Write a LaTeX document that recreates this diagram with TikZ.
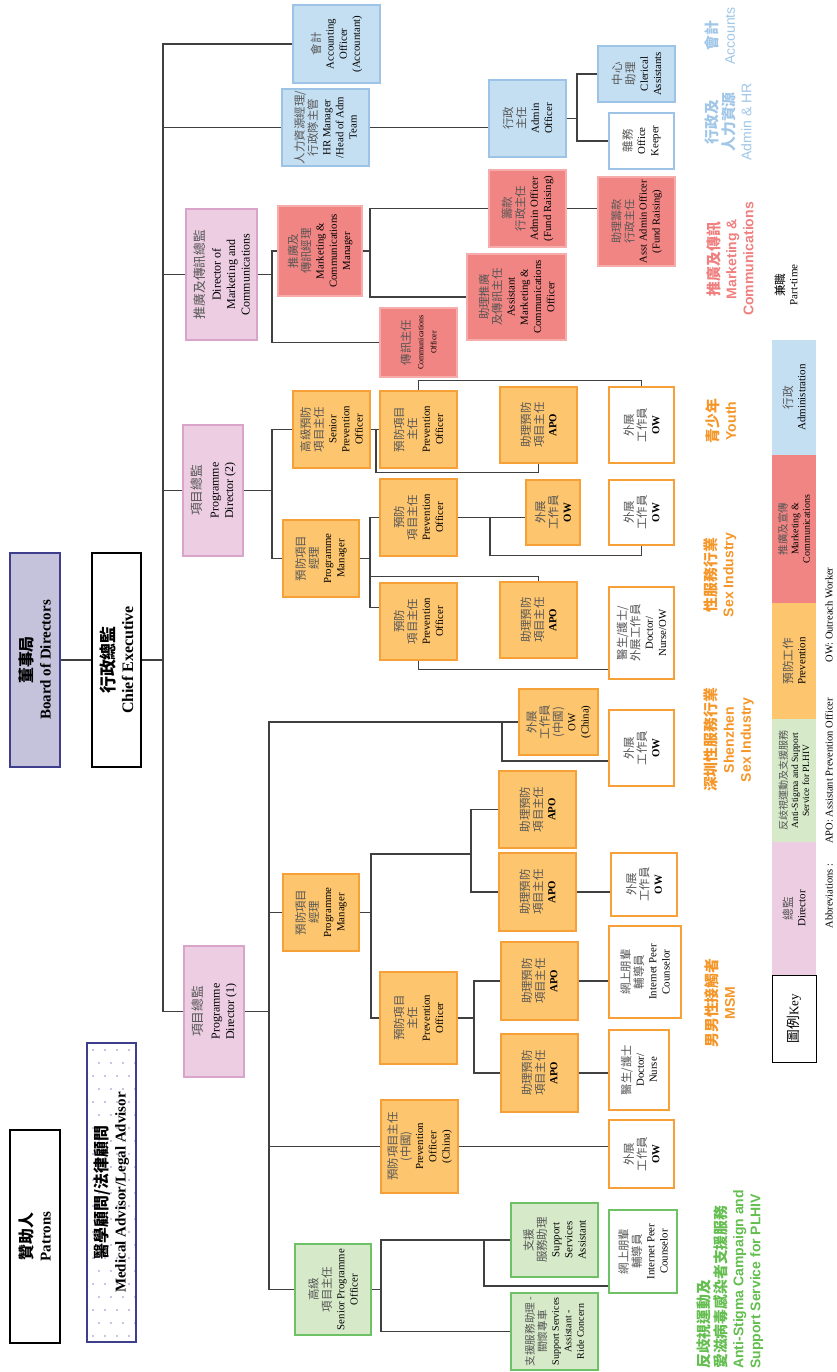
\documentclass[tikz,border=0pt]{standalone}
\usepackage{fontspec}
\setmainfont{Liberation Serif}
\newfontfamily\cjk[Scale=1.06]{Noto Sans CJK TC}
\newfontfamily\arialf{Liberation Sans}
\definecolor{linegray}{RGB}{64,64,64}
\definecolor{zhgray}{RGB}{85,85,85}
\definecolor{bluefill}{RGB}{197,223,242}
\definecolor{blueline}{RGB}{157,196,230}
\definecolor{pinkfill}{RGB}{236,205,226}
\definecolor{pinkline}{RGB}{216,164,202}
\definecolor{redfill}{RGB}{240,133,131}
\definecolor{redline}{RGB}{246,172,170}
\definecolor{orangefill}{RGB}{253,197,110}
\definecolor{orangeline}{RGB}{247,160,55}
\definecolor{greenfill}{RGB}{214,233,201}
\definecolor{greenline}{RGB}{110,193,100}
\definecolor{boardfill}{RGB}{197,194,219}
\definecolor{boardline}{RGB}{62,62,140}
\definecolor{dotcolor}{RGB}{140,140,200}
\definecolor{orangetext}{RGB}{245,150,40}
\definecolor{greentext}{RGB}{100,190,80}
\definecolor{redtext}{RGB}{240,128,128}
\definecolor{bluetext}{RGB}{160,198,232}
\newcommand{\zhg}[1]{{\cjk\color{zhgray}#1}}
\newcommand{\zhb}[1]{{\cjk\bfseries #1}}
\newcommand{\zhk}[1]{{\cjk #1}}
\tikzset{
  conn/.style={draw=linegray,line width=1.2pt},
  box/.style={rotate=90,draw,align=center,inner sep=1pt,line width=1.2pt,
    font=\fontsize{10.8}{13.2}\selectfont},
  wh/.style 2 args={minimum height=#1,minimum width=#2},
  admin node/.style={box,fill=bluefill,draw=blueline},
  admin open/.style={box,fill=white,draw=blueline},
  head node/.style={box,fill=pinkfill,draw=pinkline,font=\fontsize{12}{14.5}\selectfont},
  mc node/.style={box,fill=redfill,draw=redline},
  prev node/.style={box,fill=orangefill,draw=orangeline},
  prev open/.style={box,fill=white,draw=orangeline},
  plhiv node/.style={box,fill=greenfill,draw=greenline},
  plhiv open/.style={box,fill=white,draw=greenline},
  top node/.style={box,draw=black,font=\fontsize{15}{18}\selectfont\bfseries},
  group label/.style={rotate=90,align=center,inner sep=0pt,
    font=\arialf\bfseries\fontsize{14}{17}\selectfont},
  key cell/.style={rotate=90,align=center,inner sep=0pt,minimum height=44,
    minimum width=#1,font=\fontsize{11}{13}\selectfont},
  note/.style={rotate=90,inner sep=0pt,font=\fontsize{10.5}{12}\selectfont}
}

\begin{document}
\begin{tikzpicture}[x=1pt,y=-1pt]

  \path[use as bounding box,fill=white] (0,0) rectangle (836,1372);

  \foreach \i in {0,...,3}
    \foreach \j in {0,...,22}
      \fill[dotcolor] ({93+12*\i+6*mod(\j,2)},{1050+13*\j}) circle (0.9);

  \node[top node,wh={50}{214},fill=boardfill,draw=boardline] (board) at (35,660) {\zhb{董事局}\\Board of Directors};
  \node[top node,wh={49}{214},fill=white,font=\fontsize{16}{19}\selectfont\bfseries] (ceo) at (116.5,660) {\zhb{行政總監}\\Chief Executive};
  \node[top node,wh={50}{213},fill=white] (patrons) at (35,1236.5) {\zhb{贊助人}\\Patrons};
  \node[top node,wh={49}{299},draw=boardline] (advisor) at (111.5,1192.5) {\zhb{醫學顧問/法律顧問}\\Medical Advisor/Legal Advisor};

  \node[admin node,wh={87}{78}] (acct) at (336.5,44) {\zhg{會計}\\Accounting\\Officer\\(Accountant)};
  \node[admin node,wh={87}{77}] (hr) at (325.5,127.5) {\zhg{人力資源經理/}\\\zhg{行政隊主管}\\HR Manager\\/Head of Adm\\Team};
  \node[admin node,wh={77}{77}] (admin) at (527.5,118.5) {\zhg{行政}\\\zhg{主任}\\Admin\\Officer};
  \node[admin node,wh={77}{56}] (clerical) at (636.5,74) {\zhg{中心}\\\zhg{助理}\\Clerical\\Assistants};
  \node[admin open,wh={65}{56}] (keeper) at (641.5,141) {\zhg{雜務}\\Office\\Keeper};

  \node[head node,wh={71}{131}] (dirmc) at (221.5,274.5) {\zhg{推廣及傳訊總監}\\[2pt]Director of\\Marketing and\\Communications};
  \node[mc node,wh={84}{90}] (mcm) at (320,251) {\zhg{推廣及}\\\zhg{傳訊經理}\\Marketing \&\\Communications\\Manager};
  \node[mc node,wh={77}{69}] (commo) at (418.5,342.5) {\zhg{傳訊主任}\\{\fontsize{8}{9.5}\selectfont Communications}\\{\fontsize{8}{9.5}\selectfont Officer}};
  \node[mc node,wh={77}{77}] (fundao) at (527.5,208.5) {\zhg{籌款}\\\zhg{行政主任}\\Admin Officer\\(Fund Raising)};
  \node[mc node,wh={99}{86}] (asstmc) at (516.5,297) {\zhg{助理推廣}\\\zhg{及傳訊主任}\\Assistant\\Marketing \&\\Communications\\Officer};
  \node[mc node,wh={77}{89},font=\fontsize{10.5}{13}\selectfont] (asstfund) at (636.5,221.5) {\zhg{助理籌款}\\\zhg{行政主任}\\Asst Admin Officer\\(Fund Raising)};

  \node[head node,wh={60}{131}] (pd2) at (213,490.5) {\zhg{項目總監}\\[3pt]Programme\\Director (2)};
  \node[prev node,wh={77}{77}] (seniorpo) at (331.5,429.5) {\zhg{高級預防}\\\zhg{項目主任}\\Senior\\Prevention\\Officer};
  \node[prev node,wh={77}{77}] (poyouth) at (418.5,429.5) {\zhg{預防項目}\\\zhg{主任}\\Prevention\\Officer};
  \node[prev node,wh={77}{76}] (apoyouth) at (538.5,425) {\zhg{助理預防}\\\zhg{項目主任}\\\textbf{APO}};
  \node[prev open,wh={65}{76}] (owyouth) at (641.5,425) {\zhg{外展}\\\zhg{工作員}\\\textbf{OW}};
  \node[prev node,wh={76}{77}] (pm2) at (321,558.5) {\zhg{預防項目}\\\zhg{經理}\\Programme\\Manager};
  \node[prev node,wh={77}{77}] (posex1) at (418.5,517.5) {\zhg{預防}\\\zhg{項目主任}\\Prevention\\Officer};
  \node[prev node,wh={54}{65}] (owsex1) at (553,512.5) {\zhg{外展}\\\zhg{工作員}\\\textbf{OW}};
  \node[prev open,wh={65}{65}] (owsex2) at (641.5,512.5) {\zhg{外展}\\\zhg{工作員}\\\textbf{OW}};
  \node[prev node,wh={77}{77}] (posex2) at (418.5,621.5) {\zhg{預防}\\\zhg{項目主任}\\Prevention\\Officer};
  \node[prev node,wh={77}{76}] (aposex) at (538.5,620) {\zhg{助理預防}\\\zhg{項目主任}\\\textbf{APO}};
  \node[prev open,wh={65}{92}] (docsex) at (641.5,633) {\zhg{醫生/護士/}\\\zhg{外展工作員}\\Doctor/\\Nurse/OW};

  \node[head node,wh={60}{131}] (pd1) at (214,1011.5) {\zhg{項目總監}\\[3pt]Programme\\Director (1)};
  \node[prev node,wh={79}{66}] (owchina) at (558.5,722) {\zhg{外展}\\\zhg{工作員}\\\zhg{(中國)}\\OW\\(China)};
  \node[prev open,wh={65}{76}] (owsz) at (641.5,748) {\zhg{外展}\\\zhg{工作員}\\\textbf{OW}};
  \node[prev node,wh={76}{77}] (pm1) at (321,912.5) {\zhg{預防項目}\\\zhg{經理}\\Programme\\Manager};
  \node[prev node,wh={77}{77}] (apomsm1) at (537.5,809.5) {\zhg{助理預防}\\\zhg{項目主任}\\\textbf{APO}};
  \node[prev node,wh={77}{78}] (apomsm2) at (537.5,892) {\zhg{助理預防}\\\zhg{項目主任}\\\textbf{APO}};
  \node[prev open,wh={66}{63}] (owmsm) at (644,884.5) {\zhg{外展}\\\zhg{工作員}\\\textbf{OW}};
  \node[prev node,wh={77}{92}] (pomsm) at (418.5,1018) {\zhg{預防項目}\\\zhg{主任}\\Prevention\\Officer};
  \node[prev node,wh={77}{78}] (apomsm3) at (539.5,981) {\zhg{助理預防}\\\zhg{項目主任}\\\textbf{APO}};
  \node[prev node,wh={77}{78}] (apomsm4) at (539.5,1073) {\zhg{助理預防}\\\zhg{項目主任}\\\textbf{APO}};
  \node[prev open,wh={72}{92}] (ipcmsm) at (645,972) {\zhg{網上朋輩}\\\zhg{輔導員}\\Internet Peer\\Counselor};
  \node[prev open,wh={60}{80}] (docmsm) at (639,1070) {\zhg{醫生/護士}\\Doctor/\\Nurse};
  \node[prev node,wh={77}{93}] (pochina) at (419.5,1146.5) {\zhg{預防項目主任}\\\zhg{(中國)}\\Prevention\\Officer\\(China)};
  \node[prev open,wh={65}{68}] (owchina2) at (641.5,1154) {\zhg{外展}\\\zhg{工作員}\\\textbf{OW}};

  \node[plhiv node,wh={76}{91}] (spo) at (333,1289.5) {\zhg{高級}\\\zhg{項目主任}\\Senior Programme\\Officer};
  \node[plhiv node,wh={87}{74}] (ssa) at (554.5,1240) {\zhg{支援}\\\zhg{服務助理}\\Support\\Services\\Assistant};
  \node[plhiv node,wh={87}{77},font=\fontsize{10}{12.5}\selectfont] (ssarc) at (554.5,1331.5) {\zhg{支援服務助理 -}\\\zhg{關懷專車}\\Support Services\\Assistant -\\Ride Concern};
  \node[plhiv open,wh={68}{83}] (ipcplhiv) at (643,1251.5) {\zhg{網上朋輩}\\\zhg{輔導員}\\Internet Peer\\Counselor};

  \node[group label,text=bluetext] (lblacct) at (720,36) {{\cjk 會計}\\\mdseries Accounts};
  \node[group label,text=bluetext] (lbladmin) at (728,122) {{\cjk 行政及}\\{\cjk 人力資源}\\\mdseries Admin \& HR};
  \node[group label,text=redtext] (lblmc) at (730,259) {{\cjk 推廣及傳訊}\\Marketing \&\\Communications};
  \node[rotate=90,align=center,inner sep=0pt,font=\fontsize{11}{13}\selectfont] (lblpart) at (786,285) {\zhk{兼職}\\Part-time};
  \node[group label,text=orangetext] (lblyouth) at (721,421) {{\cjk 青少年}\\Youth};
  \node[group label,text=orangetext] (lblsex) at (720,575) {{\cjk 性服務行業}\\Sex Industry};
  \node[group label,text=orangetext] (lblsz) at (729,740) {{\cjk 深圳性服務行業}\\Shenzhen\\Sex Industry};
  \node[group label,text=orangetext] (lblmsm) at (720,1003) {{\cjk 男男性接觸者}\\MSM};
  \node[group label,text=greentext,anchor=west,align=left] (lblplhiv) at (730,1369) {{\cjk 反歧視運動及}\\{\cjk 愛滋病毒感染者支援服務}\\Anti-Stigma Campaign and\\Support Service for PLHIV};

  \node[key cell={115},fill=bluefill] (keyadmin) at (794,397.5) {\zhg{行政}\\Administration};
  \node[key cell={148},fill=redfill,font=\fontsize{10}{11.5}\selectfont] (keymc) at (794,529) {\zhg{推廣及宣傳}\\Marketing \&\\Communications};
  \node[key cell={116},fill=orangefill] (keyprev) at (794,661) {\zhg{預防工作}\\Prevention};
  \node[key cell={123},fill=greenfill,font=\fontsize{9.5}{11}\selectfont] (keyplhiv) at (794,780.5) {\zhg{反歧視運動及支援服務}\\Anti-Stigma and Support\\Service for PLHIV};
  \node[key cell={133},fill=pinkfill] (keydir) at (794,908.5) {\zhg{總監}\\Director};
  \node[key cell={87},draw=black,line width=1pt,font=\fontsize{13}{15}\selectfont] (key) at (794,1018.5) {\zhk{圖例}Key};

  \node[note] (abbr) at (829,896) {Abbreviations :};
  \node[note] (abbrapo) at (829,771) {APO: Assistant Prevention Officer};
  \node[note] (abbrow) at (829,615) {OW: Outreach Worker};

  \coordinate (trunk) at (163,0);
  \coordinate (adminfork) at (577,0);
  \coordinate (mcfork) at (272,0);
  \coordinate (fundfork) at (370,0);
  \coordinate (pd2fork) at (272,0);
  \coordinate (youthfork) at (376,0);
  \coordinate (sexfork) at (370,0);
  \coordinate (owfork) at (490,0);
  \coordinate (pd1fork) at (269,0);
  \coordinate (szfork) at (502,0);
  \coordinate (pm1fork) at (371,0);
  \coordinate (apofork) at (471,0);
  \coordinate (msmfork) at (474,0);
  \coordinate (spofork) at (381,0);
  \coordinate (peerfork) at (484,0);

  \draw[conn] (board) -- (ceo);
  \draw[conn] (ceo.south) -- (ceo.south -| trunk);
  \draw[conn] (acct.north) -- (acct.north -| trunk) |- (pd1.north);
  \draw[conn] (trunk |- hr.north) -- (hr.north);
  \draw[conn] (hr.south) -- (hr.south -| admin.north);
  \draw[conn] (admin.south) -- (admin.south -| adminfork);
  \draw[conn] (clerical.north) -- (clerical.north -| adminfork) |- (keeper.north);

  \draw[conn] (trunk |- dirmc.north) -- (dirmc.north);
  \draw[conn] (dirmc.south) -- (dirmc.south -| mcfork);
  \draw[conn] (mcm.north) -- (mcm.north -| mcfork) |- (commo.north);
  \draw[conn] (mcm.south) -- (mcm.south -| fundfork);
  \draw[conn] (fundao.north) -- (fundao.north -| fundfork) |- (asstmc.north);
  \draw[conn] (fundao.south) -- (fundao.south -| asstfund.north);

  \draw[conn] (trunk |- pd2.north) -- (pd2.north);
  \draw[conn] (pd2.south) -- (pd2.south -| pd2fork);
  \draw[conn] (seniorpo.north) -- (seniorpo.north -| pd2fork) |- (pm2.north);
  \draw[conn] (seniorpo) -- (poyouth);
  \draw[conn] (seniorpo.south -| youthfork) -- ++(0,43) -| (apoyouth.west);
  \draw[conn] (poyouth.east) -- ++(0,-10) -| (owyouth.east);
  \draw[conn] (pm2.south) -- (pm2.south -| sexfork);
  \draw[conn] (posex1.north) -- (posex1.north -| sexfork) -- ++(0,90) coordinate (po2bend) -- (po2bend -| posex2.north);
  \draw[conn] (pm2.south -| sexfork) ++(0,18) -| (aposex.east);
  \draw[conn] (posex1.south) -- (posex1.south -| owsex1.north);
  \draw[conn] (posex1.south -| owfork) -- ++(0,38) -| (owsex2.west);
  \draw[conn] (posex2.west) -- ++(0,9) coordinate (docbend) -- (docbend -| docsex.north);

  \draw[conn] (pd1.south) -- (pd1.south -| pd1fork);
  \draw[conn] (owchina.north) -- (owchina.north -| pd1fork) |- (spo.north);
  \draw[conn] (owchina.north -| szfork) -- ++(0,39) coordinate (szbend) -- (szbend -| owsz.north);
  \draw[conn] (pd1fork |- pm1.north) -- (pm1.north);
  \draw[conn] (pd1fork |- pochina.north) -- (pochina.north);
  \draw[conn] (pm1.south) -- (pm1.south -| pm1fork);
  \draw[conn] (pomsm.north) -- (pomsm.north -| pm1fork) -- ++(0,-164) coordinate (apobend) -- (apobend -| apofork);
  \draw[conn] (apomsm1.north) -- (apomsm1.north -| apofork) |- (apomsm2.north);
  \draw[conn] (apomsm2.south) -- (apomsm2.south -| owmsm.north);
  \draw[conn] (pomsm.south) -- (pomsm.south -| msmfork);
  \draw[conn] (apomsm3.north) -- (apomsm3.north -| msmfork) |- (apomsm4.north);
  \draw[conn] (apomsm3.south) -- (apomsm3.south -| ipcmsm.north);
  \draw[conn] (apomsm4.south) -- (apomsm4.south -| docmsm.north);
  \draw[conn] (pochina.south) -- (pochina.south -| owchina2.north);

  \draw[conn] (spo.south) -- (spo.south -| spofork);
  \draw[conn] (ssa.north) -- (ssa.north -| spofork) |- (ssarc.north);
  \draw[conn] (ssa.north -| peerfork) -- ++(0,46) coordinate (peerbend) -- (peerbend -| ipcplhiv.north);
\end{tikzpicture}
\end{document}
